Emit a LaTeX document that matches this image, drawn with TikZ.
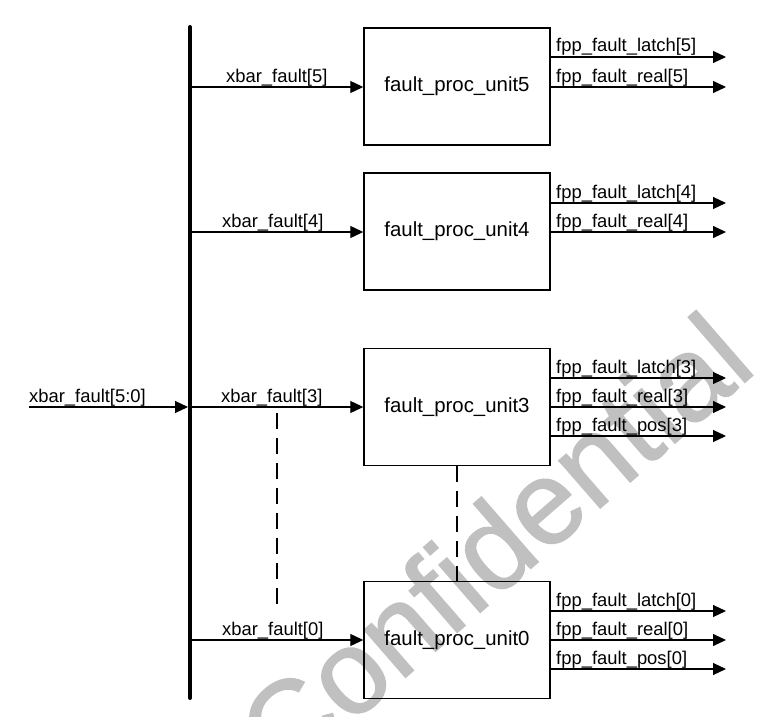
\documentclass[tikz,border=0pt]{standalone}
\usepackage{fontspec}
\setmainfont{Liberation Sans}
\newfontfamily\wmfont[FakeBold=1.2]{Liberation Sans}
\usetikzlibrary{arrows.meta}
\definecolor{wmgray}{RGB}{192,192,192}
\begin{document}
\begin{tikzpicture}[x=1pt,y=-1pt,
  unitbox/.style={draw, line width=1.4pt, minimum width=186pt, minimum height=117pt,
    inner sep=0pt, font=\fontsize{20.4}{24}\selectfont},
  sig/.style={line width=1.1pt, -{Triangle[length=13pt,width=12pt]}},
  lbl/.style={anchor=base west, inner sep=0pt, font=\fontsize{18.4}{22}\selectfont},
  busline/.style={line width=4pt, line cap=round},
  dashline/.style={line width=1.1pt, dash pattern=on 16pt off 9pt},
  wmark/.style={anchor=base east, rotate=41, inner sep=0pt, text=wmgray,
    font=\wmfont\fontsize{119}{130}\selectfont}]
\useasboundingbox (0,0) rectangle (777,717);
\clip (0,0) rectangle (777,717);

% watermark
\node[wmark] (wm) at (759,370) {Confidential};

% bus
\coordinate (bt) at (190,27);
\coordinate (bb) at (190,698);
\draw[busline] (bt) -- (bb);

% units
\node[unitbox] (u5) at (457,86.5) {fault\_proc\_unit5};
\node[unitbox] (u4) at (457,231.5) {fault\_proc\_unit4};
\node[unitbox] (u3) at (457,407) {fault\_proc\_unit3};
\node[unitbox] (u0) at (457,640) {fault\_proc\_unit0};

% main input
\coordinate (min) at (29,407);
\coordinate (mbus) at (188,407);
\draw[sig] (min) -- (mbus);
\node[lbl] (lmain) at (29,402.5) {xbar\_fault[5:0]};

% bus taps
\coordinate (b5) at (190,87);
\coordinate (b4) at (190,232);
\coordinate (b3) at (190,407);
\coordinate (b0) at (190,640);
\draw[sig] (b5) -- (u5.west |- b5);
\draw[sig] (b4) -- (u4.west |- b4);
\draw[sig] (b3) -- (u3.west |- b3);
\draw[sig] (b0) -- (u0.west |- b0);
\node[lbl] (lx5) at (226,82.5) {xbar\_fault[5]};
\node[lbl] (lx4) at (222,227.5) {xbar\_fault[4]};
\node[lbl] (lx3) at (221,402.5) {xbar\_fault[3]};
\node[lbl] (lx0) at (222,635.5) {xbar\_fault[0]};

% outputs unit5
\coordinate (o5a) at (726,57);
\coordinate (o5b) at (726,87);
\draw[sig] (u5.east |- o5a) -- (o5a);
\draw[sig] (u5.east |- o5b) -- (o5b);
\node[lbl] (l5a) at (556,52) {fpp\_fault\_latch[5]};
\node[lbl] (l5b) at (556,82) {fpp\_fault\_real[5]};

% outputs unit4
\coordinate (o4a) at (726,203);
\coordinate (o4b) at (726,232);
\draw[sig] (u4.east |- o4a) -- (o4a);
\draw[sig] (u4.east |- o4b) -- (o4b);
\node[lbl] (l4a) at (556,198) {fpp\_fault\_latch[4]};
\node[lbl] (l4b) at (556,227) {fpp\_fault\_real[4]};

% outputs unit3
\coordinate (o3a) at (726,378);
\coordinate (o3b) at (726,407);
\coordinate (o3c) at (726,436);
\draw[sig] (u3.east |- o3a) -- (o3a);
\draw[sig] (u3.east |- o3b) -- (o3b);
\draw[sig] (u3.east |- o3c) -- (o3c);
\node[lbl] (l3a) at (556,373) {fpp\_fault\_latch[3]};
\node[lbl] (l3b) at (556,402) {fpp\_fault\_real[3]};
\node[lbl] (l3c) at (556,431) {fpp\_fault\_pos[3]};

% outputs unit0
\coordinate (o0a) at (726,611);
\coordinate (o0b) at (726,640);
\coordinate (o0c) at (726,669);
\draw[sig] (u0.east |- o0a) -- (o0a);
\draw[sig] (u0.east |- o0b) -- (o0b);
\draw[sig] (u0.east |- o0c) -- (o0c);
\node[lbl] (l0a) at (556,606) {fpp\_fault\_latch[0]};
\node[lbl] (l0b) at (556,635) {fpp\_fault\_real[0]};
\node[lbl] (l0c) at (556,664) {fpp\_fault\_pos[0]};

% ellipsis dashed lines
\coordinate (dl1) at (277,413);
\coordinate (dl2) at (277,612);
\draw[dashline] (dl1) -- (dl2);
\draw[dashline] (u3.south) -- (u0.north);
\end{tikzpicture}
\end{document}
